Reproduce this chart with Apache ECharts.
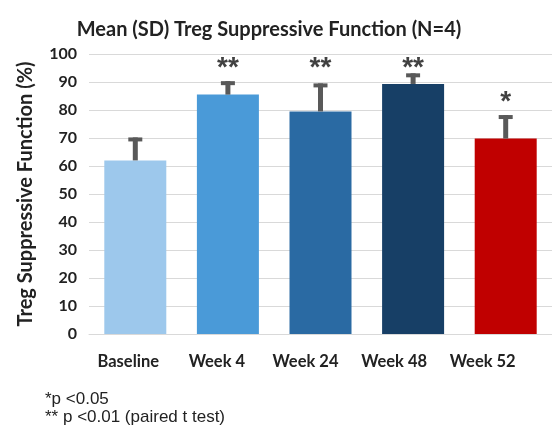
<!DOCTYPE html>
<html>
<head>
<meta charset="utf-8">
<script src="https://cdn.jsdelivr.net/npm/echarts@6/dist/echarts.min.js"></script>
<style>
  html, body { margin: 0; padding: 0; background: #fff; }
  #chart { width: 552px; height: 433px; }
</style>
</head>
<body>
<div id="chart"></div>
<script>
// data
var categories = ['Baseline', 'Week 4', 'Week 24', 'Week 48', 'Week 52'];
var means = [62, 85.5, 79.5, 89.3, 69.8];
var sds = [8.2, 4.8, 10, 3.8, 8.4];
var barColors = ['#9dc8ec', '#4a9ad8', '#2a6aa3', '#173f66', '#c00000'];
var stars = ['', '**', '**', '**', '*'];
var starPos = [null, 95, 95, 95, 82.8];

var myChart = echarts.init(document.getElementById('chart'));
var font = 'Lato, "Liberation Sans", sans-serif';

var option = {
  animation: false,
  title: {
    text: 'Mean (SD) Treg Suppressive Function (N=4)',
    left: 264,
    textAlign: 'center',
    top: 15,
    textStyle: { fontFamily: font, fontWeight: 'bold', fontSize: 20, color: '#222' }
  },
  grid: [
    { left: 89, top: 54, width: 468, height: 280 },
    // labels in the original sit a bit tighter than the bars
    { left: 84, top: 54, width: 443, height: 280 }
  ],
  xAxis: [
    {
      type: 'category',
      data: categories,
      axisTick: { show: false },
      axisLine: { lineStyle: { color: '#d9d9d9' } },
      axisLabel: { show: false }
    },
    {
      type: 'category',
      gridIndex: 1,
      data: categories,
      axisTick: { show: false },
      axisLine: { show: false },
      axisLabel: { margin: 19, color: '#222', fontFamily: font, fontWeight: 'bold', fontSize: 16.5 }
    }
  ],
  yAxis: [
    {
      type: 'value',
      min: 0,
      max: 100,
      interval: 10,
      name: 'Treg Suppressive Function (%)',
      nameLocation: 'middle',
      nameGap: 53,
      nameTextStyle: { color: '#222', fontFamily: font, fontWeight: 'bold', fontSize: 20 },
      axisLine: { show: false },
      axisTick: { show: false },
      splitLine: { lineStyle: { color: '#d9d9d9' } },
      axisLabel: { margin: 12, color: '#222', fontFamily: font, fontWeight: 'bold', fontSize: 16 }
    },
    { type: 'value', gridIndex: 1, show: false, min: 0, max: 100 }
  ],
  series: [
    {
      type: 'bar',
      barWidth: 62,
      data: means.map(function (v, i) {
        return { value: v, itemStyle: { color: barColors[i] } };
      }),
      z: 2
    },
    {
      type: 'custom',
      z: 3,
      data: means.map(function (v, i) { return [i, v, v + sds[i]]; }),
      renderItem: function (params, api) {
        var low = api.coord([api.value(0), api.value(1)]);
        var high = api.coord([api.value(0), api.value(2)]);
        var x = low[0];
        return {
          type: 'group',
          children: [
            { type: 'rect', shape: { x: x - 2.5, y: high[1], width: 5, height: low[1] - high[1] }, style: { fill: '#595959' } },
            { type: 'rect', shape: { x: x - 7, y: high[1], width: 14, height: 4 }, style: { fill: '#595959' } }
          ]
        };
      }
    },
    {
      type: 'scatter',
      symbolSize: 0,
      data: starPos.map(function (v, i) { return [i, v]; }),
      label: {
        show: true,
        position: 'inside',
        formatter: function (p) { return stars[p.dataIndex]; },
        color: '#111',
        fontFamily: '"Liberation Sans", Arial, sans-serif',
        fontWeight: 'bold',
        fontSize: 28
      }
    }
  ],
  graphic: [
    {
      type: 'text', left: 45, top: 391,
      style: { text: '*p <0.05', fontFamily: '"Liberation Sans", Arial, sans-serif', fontSize: 17, fill: '#222' }
    },
    {
      type: 'text', left: 45, top: 409,
      style: { text: '** p <0.01 (paired t test)', fontFamily: '"Liberation Sans", Arial, sans-serif', fontSize: 17, fill: '#222' }
    }
  ]
};

myChart.setOption(option);
window.addEventListener('resize', function () {
  myChart.resize();
});
</script>
</body>
</html>
